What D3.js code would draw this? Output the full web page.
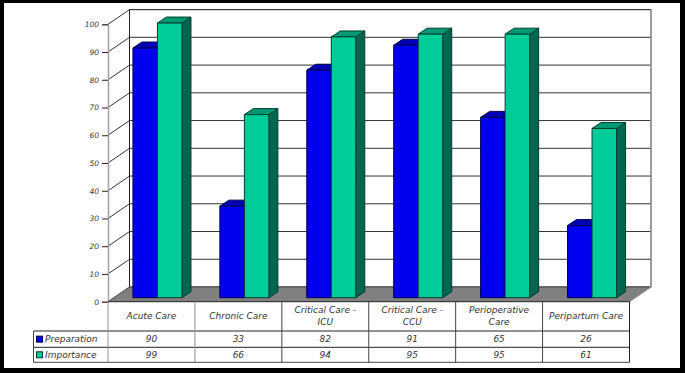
<!DOCTYPE html>
<html>
<head>
<meta charset="utf-8">
<script src="https://cdn.jsdelivr.net/npm/d3@7"></script>
<style>
html, body { margin: 0; padding: 0; background: #000; }
svg { display: block; }
text { font-family: "DejaVu Sans", sans-serif; font-style: italic; font-size: 9px; fill: #333; }
</style>
</head>
<body>
<div id="chart"></div>
<script>
const categories = ["Acute Care", "Chronic Care", "Critical Care - ICU", "Critical Care - CCU", "Perioperative Care", "Peripartum Care"];
const categoryLines = [["Acute Care"], ["Chronic Care"], ["Critical Care -", "ICU"], ["Critical Care -", "CCU"], ["Perioperative", "Care"], ["Peripartum Care"]];
const preparation = [90, 33, 82, 91, 65, 26];
const importance = [99, 66, 94, 95, 95, 61];
const seriesNames = ["Preparation", "Importance"];
const yTicks = [0, 10, 20, 30, 40, 50, 60, 70, 80, 90, 100];

const width = 685, height = 373;
const plotLeft = 108, plotRight = 629.5, plotTop = 24.3, plotBottom = 301.7;
const depthX = 21.5, depthY = -14.7;
const rowBottoms = [331, 347.3, 362.3];
const legendLeft = 33.5;

const frontColors = ["#0000f0", "#00cc99"];
const sideColors = ["#000090", "#006650"];
const topColors = ["#0000b4", "#009973"];
const edgeColors = ["#000050", "#003d30"];

const svg = d3.select("#chart").append("svg")
    .attr("width", width)
    .attr("height", height);

svg.append("rect")
    .attr("x", 4).attr("y", 3)
    .attr("width", 676).attr("height", 365)
    .attr("fill", "#fff");

const y = d3.scaleLinear().domain([0, 100]).range([plotBottom, plotTop]);
const x = d3.scaleBand().domain(categories).range([plotLeft, plotRight]);
const inner = d3.scaleBand().domain(seriesNames)
    .range([0, x.bandwidth()]).paddingInner(0).paddingOuter(0.773);

// back wall and side wall
const backLeft = plotLeft + depthX, backRight = plotRight + depthX;
svg.append("rect")
    .attr("x", backLeft).attr("y", y(100) + depthY)
    .attr("width", backRight - backLeft).attr("height", y(0) - y(100))
    .attr("fill", "#fff")
    .attr("stroke", "#222");

// floor
svg.append("path")
    .attr("d", d3.line()([[plotLeft, y(0)], [backLeft, y(0) + depthY], [backRight, y(0) + depthY], [plotRight, y(0)]]))
    .attr("fill", "#808080")
    .attr("stroke", "#666");

// gridlines
yTicks.forEach(function (t) {
    svg.append("path")
        .attr("d", d3.line()([[plotLeft, y(t)], [backLeft, y(t) + depthY], [backRight, y(t) + depthY]]))
        .attr("fill", "none")
        .attr("stroke", t == 0 ? "#555" : "#333");
});

// right edge of back wall
svg.append("line")
    .attr("x1", backRight).attr("x2", backRight)
    .attr("y1", y(100) + depthY).attr("y2", y(0) + depthY)
    .attr("stroke", "#a0a0a0").attr("stroke-width", 1.5);
svg.append("line")
    .attr("x1", backRight).attr("x2", plotRight)
    .attr("y1", y(0) + depthY).attr("y2", y(0))
    .attr("stroke", "#a0a0a0");

// bars
const barDx = 6, barDy = -4;   // gap between front edge and bar
const barDepthX = 9, barDepthY = -6;
const line = d3.line();

categories.forEach(function (c, i) {
    [preparation, importance].forEach(function (values, s) {
        const x0 = x(c) + inner(seriesNames[s]) + barDx;
        const x1 = x0 + inner.bandwidth();
        const yTop = y(values[i]) + barDy;
        const yBase = y(0) + barDy;
        const g = svg.append("g")
            .attr("stroke", edgeColors[s])
            .attr("stroke-linejoin", "round");
        g.append("path")
            .attr("d", line([[x1, yTop], [x1 + barDepthX, yTop + barDepthY], [x1 + barDepthX, yBase + barDepthY], [x1, yBase]]) + "Z")
            .attr("fill", sideColors[s]);
        g.append("path")
            .attr("d", line([[x0, yTop], [x0 + barDepthX, yTop + barDepthY], [x1 + barDepthX, yTop + barDepthY], [x1, yTop]]) + "Z")
            .attr("fill", topColors[s]);
        g.append("rect")
            .attr("x", x0).attr("y", yTop)
            .attr("width", x1 - x0).attr("height", yBase - yTop)
            .attr("fill", frontColors[s]);
    });
});

// value axis
const axis = d3.axisLeft(y).tickValues(yTicks).tickSize(6).tickPadding(3);
const axisG = svg.append("g")
    .attr("transform", "translate(" + plotLeft + ",0)")
    .call(axis);
axisG.select(".domain").attr("stroke", "#a0a0a0").attr("stroke-width", 1.5);
axisG.selectAll(".tick line").attr("stroke", "#222");
axisG.selectAll("text").attr("font-family", null).attr("font-size", null)
    .style("font-size", "7.5px");

// data table
const tableTop = y(0);
const tableBottom = rowBottoms[2];
const tableLine = function (x1, y1, x2, y2, color) {
    svg.append("line")
        .attr("x1", x1).attr("y1", y1).attr("x2", x2).attr("y2", y2)
        .attr("stroke", color);
};
tableLine(plotLeft, tableTop, plotRight, tableTop, "#222");
tableLine(legendLeft, rowBottoms[0], plotRight, rowBottoms[0], "#222");
tableLine(legendLeft, rowBottoms[1], plotRight, rowBottoms[1], "#222");
tableLine(legendLeft, rowBottoms[2], plotRight, rowBottoms[2], "#444");
tableLine(legendLeft, rowBottoms[0], legendLeft, tableBottom, "#444");
tableLine(plotRight, tableTop, plotRight, tableBottom, "#222");
categories.forEach(function (c, i) {
    tableLine(x(c), tableTop, x(c), tableBottom, i < 2 ? "#909090" : "#444");
});

categories.forEach(function (c, i) {
    const lines = categoryLines[i];
    const cx = x(c) + x.bandwidth() / 2;
    const midY = (tableTop + rowBottoms[0]) / 2 + 3;
    lines.forEach(function (l, k) {
        svg.append("text")
            .attr("x", cx)
            .attr("y", midY + (k - (lines.length - 1) / 2) * 12)
            .attr("text-anchor", "middle")
            .text(l);
    });
    [preparation, importance].forEach(function (values, s) {
        const top = rowBottoms[s];
        svg.append("text")
            .attr("x", cx)
            .attr("y", (top + rowBottoms[s + 1]) / 2 + 3)
            .attr("text-anchor", "middle")
            .text(values[i]);
    });
});

// legend keys
seriesNames.forEach(function (name, s) {
    const mid = (rowBottoms[s] + rowBottoms[s + 1]) / 2;
    svg.append("rect")
        .attr("x", 36.5).attr("y", mid - 3)
        .attr("width", 6).attr("height", 6)
        .attr("fill", frontColors[s])
        .attr("stroke", edgeColors[s]);
    svg.append("text")
        .attr("x", 45)
        .attr("y", mid + 3)
        .text(name);
});
</script>
</body>
</html>
